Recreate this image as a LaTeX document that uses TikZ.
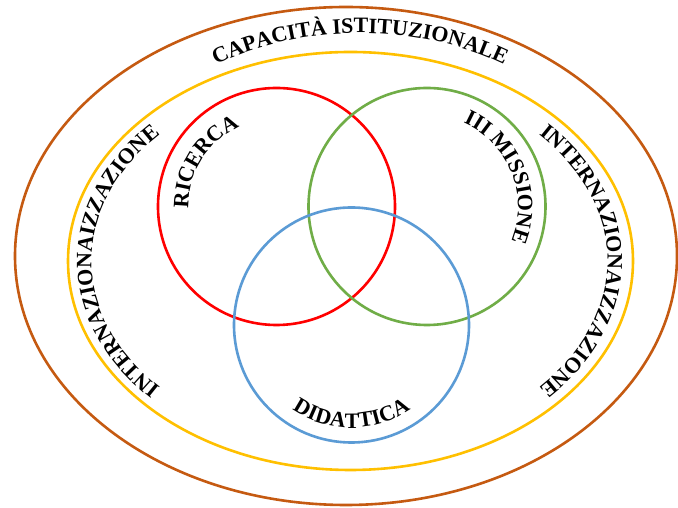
\documentclass[tikz,border=0pt]{standalone}
\usepackage{fontspec}
\setmainfont{Liberation Serif}
\usetikzlibrary{decorations.text}
\definecolor{cbrown}{HTML}{C55A11}
\definecolor{cyellow}{HTML}{FFC000}
\definecolor{cred}{HTML}{FF0000}
\definecolor{cgreen}{HTML}{70AD47}
\definecolor{cblue}{HTML}{5B9BD5}
\newcommand\mylbl{\bfseries\fontsize{22}{22}\selectfont}
\tikzset{
  ring/.style={line width=2.6pt},
  curvetext/.style={decorate, decoration={text along path, text align=center, text={|\mylbl|#1}}}
}
\begin{document}
\begin{tikzpicture}[x=1pt,y=1pt]
\useasboundingbox (0,0) rectangle (678,508);
\fill[white] (0,0) rectangle (678,508);
% outer ellipses
\draw[ring, cbrown] (346,252) ellipse [x radius=331pt, y radius=249pt];
\draw[ring, cyellow] (350.5,247) ellipse [x radius=282.5pt, y radius=209pt];
% circles
\draw[ring, cred] (276.5,301.5) circle [radius=118.5pt];
\draw[ring, cgreen] (427,301.5) circle [radius=118.5pt];
\draw[ring, cblue] (351.5,183) circle [radius=117.5pt];
% curved texts
\path[curvetext={CAPACITÀ ISTITUZIONALE}] (360,252) ++(180:280pt and 223pt) arc [start angle=180, end angle=0, x radius=280pt, y radius=223pt];
\path[curvetext={INTERNAZIONAIZZAZIONE}] (350.5,247) ++(270:259pt and 186pt) arc [start angle=270, end angle=90, x radius=259pt, y radius=186pt];
\path[curvetext={INTERNAZIONAIZZAZIONE}] (350.5,247) ++(90:257pt and 186pt) arc [start angle=90, end angle=-90, x radius=257pt, y radius=186pt];
\path[curvetext={RICERCA}] (276.5,301.5) ++(198:88pt) arc [start angle=198, end angle=98, radius=88pt];
\path[curvetext={III MISSIONE}] (427,301.5) ++(72:91pt) arc [start angle=72, end angle=-28, radius=91pt];
\path[curvetext={DIDATTICA}] (351.5,183) ++(200:103pt) arc [start angle=200, end angle=340, radius=103pt];
\end{tikzpicture}
\end{document}
